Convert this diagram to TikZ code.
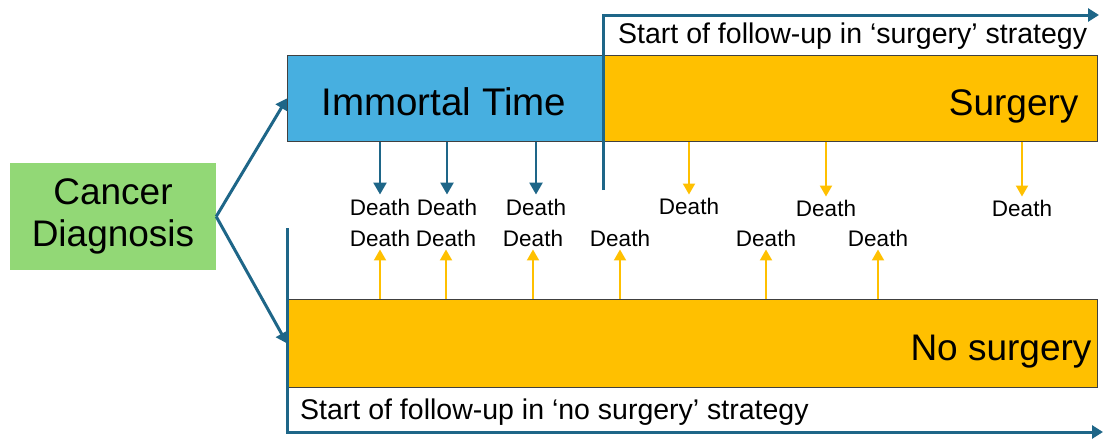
\documentclass[tikz,border=0pt]{standalone}
\usepackage{fontspec}
\setmainfont{Liberation Sans}
\usetikzlibrary{arrows.meta,positioning}
\definecolor{tealline}{RGB}{30,102,136}
\definecolor{skyfill}{RGB}{71,175,224}
\definecolor{amberfill}{RGB}{255,192,0}
\definecolor{leaffill}{RGB}{146,216,118}
\tikzset{
  bigtext/.style={font=\fontsize{37}{42}\selectfont, align=center},
  deathlbl/.style={font=\fontsize{22.5}{24}\selectfont, inner sep=1pt},
  followlbl/.style={font=\fontsize{28.5}{30}\selectfont, inner sep=0pt},
  timebox/.style={draw=black!75, line width=0.8pt, anchor=north west, inner sep=0pt},
  tealarrow/.style={draw=tealline, line width=3pt, -{Triangle[length=11pt,width=13pt]}},
  bluedrop/.style={draw=tealline, line width=2.5pt, -{Triangle[length=12pt,width=13pt]}, shorten >=3pt},
  amberdrop/.style={draw=amberfill, line width=2pt, -{Triangle[length=11pt,width=12pt]}, shorten >=2pt},
}
\begin{document}
\begin{tikzpicture}[x=1pt,y=1pt]
  \useasboundingbox (0,0) rectangle (1103,-440);
  % diagnosis and the two strategies
  \node[fill=leaffill, minimum width=206, minimum height=107, bigtext] (diag) at (113,-216.5) {Cancer\\Diagnosis};
  \node[timebox, fill=skyfill, minimum width=316, minimum height=86] (immortal) at (287,-55) {};
  \node[timebox, fill=amberfill, minimum width=494, minimum height=86] (surg) at (603,-55) {};
  \node[timebox, fill=amberfill, minimum width=810, minimum height=88] (nosurg) at (287,-299) {};
  \node[bigtext, font=\fontsize{38.5}{42}\selectfont, anchor=base] (immlbl) at (444,-115) {Immortal Time};
  \node[bigtext, anchor=base east] (surglbl) at (1082,-115) {Surgery};
  \node[bigtext, anchor=base east] (nosurglbl) at (1095,-360) {No surgery};
  \draw[tealarrow] (diag.east) -- (immortal.west);
  \draw[tealarrow] (diag.east) -- (nosurg.west);
  % follow-up time axes
  \coordinate (sstart) at (603,-190);
  \coordinate (send) at (1099,-15);
  \coordinate (nstart) at (287,-228);
  \coordinate (nend) at (1103,-432);
  \draw[tealarrow] (sstart) |- (send);
  \draw[tealarrow] (nstart) |- (nend);
  \node[followlbl, anchor=west] (sfollow) at (618,-36) {Start of follow-up in ‘surgery’ strategy};
  \node[followlbl, anchor=west] (nfollow) at (300,-412) {Start of follow-up in ‘no surgery’ strategy};
  % deaths
  \foreach \i/\x/\y in {1/380/207, 2/447/207, 3/536/207, 4/689/206, 5/826/208, 6/1022/208}
    \node[deathlbl] (dt\i) at (\x,-\y) {Death};
  \foreach \i/\x in {1/380, 2/446, 3/533, 4/620, 5/766, 6/878}
    \node[deathlbl] (db\i) at (\x,-238) {Death};
  \foreach \i in {1,2,3}
    \draw[bluedrop] (immortal.south -| dt\i) -- (dt\i.north);
  \foreach \i in {4,5,6}
    \draw[amberdrop] (surg.south -| dt\i) -- (dt\i.north);
  \foreach \i in {1,...,6}
    \draw[amberdrop] (nosurg.north -| db\i) -- (db\i.south);
\end{tikzpicture}
\end{document}
